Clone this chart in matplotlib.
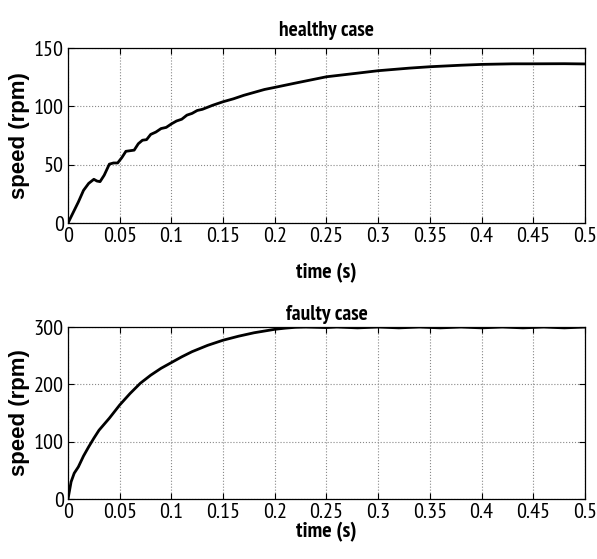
import matplotlib
matplotlib.use("Agg")
import matplotlib.pyplot as plt
from matplotlib import font_manager

# ---- data ----
t_healthy = [0, 0.005, 0.01, 0.015, 0.02, 0.025, 0.028, 0.031, 0.035, 0.04, 0.044, 0.048,
             0.052, 0.056, 0.06, 0.064, 0.068, 0.072, 0.076, 0.08, 0.085, 0.09, 0.095, 0.1,
             0.105, 0.11, 0.115, 0.12, 0.125, 0.13, 0.14, 0.15, 0.16, 0.17, 0.18, 0.19, 0.2,
             0.22, 0.25, 0.28, 0.3, 0.33, 0.35, 0.38, 0.4, 0.43, 0.45, 0.48, 0.5]
speed_healthy = [0, 9, 18, 28, 34, 37.5, 36, 35.5, 41, 50.5, 51.5, 51.5,
                 56, 61.5, 62, 62.5, 68, 71, 71.5, 76, 78, 81, 82, 85,
                 87.5, 89, 92.5, 94, 96.5, 97.5, 101, 104, 106.5, 109.5, 112, 114.5, 116.3,
                 120, 125.4, 128.5, 130.6, 132.8, 134, 135.3, 136, 136.5, 136.5, 136.6, 136.4]

t_faulty = [0, 0.003, 0.006, 0.01, 0.015, 0.02, 0.025, 0.03, 0.04, 0.05, 0.06, 0.07, 0.08,
            0.09, 0.1, 0.11, 0.12, 0.135, 0.15, 0.165, 0.18, 0.19, 0.2, 0.21, 0.22, 0.23,
            0.25, 0.26, 0.28, 0.3, 0.32, 0.34, 0.36, 0.38, 0.4, 0.42, 0.44, 0.46, 0.48, 0.5]
speed_faulty = [0, 30, 45, 56, 75, 91, 106, 120, 141, 164, 184, 202, 216,
                228, 238, 248, 257, 268, 277, 284, 290, 293, 296, 298, 299.5, 300,
                299, 300, 298.5, 300, 298.5, 300, 298.5, 300, 298.5, 300, 298.5, 300, 298.5, 300]

x_ticks = [0, 0.05, 0.1, 0.15, 0.2, 0.25, 0.3, 0.35, 0.4, 0.45, 0.5]
x_ticklabels = ["0", "0.05", "0.1", "0.15", "0.2", "0.25", "0.3", "0.35", "0.4", "0.45", "0.5"]
y_ticks_healthy = [0, 50, 100, 150]
y_ticks_faulty = [0, 100, 200, 300]

titles = ["healthy case", "faulty case"]
xlabel = "time (s)"
ylabel = "speed (rpm)"

names = {f.name for f in font_manager.fontManager.ttflist}
narrow = "Liberation Sans"
for cand in ["PT Sans Narrow", "Archivo Narrow", "Roboto Condensed"]:
    if cand in names:
        narrow = cand
        break

fig = plt.figure(figsize=(5.97, 5.59), dpi=100)
ax1 = fig.add_axes([0.1139, 0.601, 0.866, 0.313])
ax2 = fig.add_axes([0.1139, 0.1073, 0.866, 0.3077])

panels = [(ax1, t_healthy, speed_healthy, y_ticks_healthy, titles[0], 9.0, 12.0),
          (ax2, t_faulty, speed_faulty, y_ticks_faulty, titles[1], 5.0, 0.0)]

for ax, t, s, yt, ttl, tpad, lpad in panels:
    ax.plot(t, s, color="black", lw=2.0)
    ax.set_xlim(0, 0.5)
    ax.set_ylim(yt[0], yt[-1])
    ax.set_xticks(x_ticks)
    ax.set_xticklabels(x_ticklabels)
    ax.set_yticks(yt)
    ax.grid(True, color="#888888", linestyle=":", linewidth=0.8)
    ax.tick_params(direction="in", top=True, right=True, length=4, width=0.8, pad=3,
                   labelsize=16)
    for lab in ax.get_xticklabels() + ax.get_yticklabels():
        lab.set_fontfamily(narrow)
    for sp in ax.spines.values():
        sp.set_linewidth(0.9)
    ax.set_title(ttl, fontsize=15.5, fontweight="bold", family=narrow, pad=tpad)
    ax.set_xlabel(xlabel, fontsize=16, fontweight="bold", family=narrow, labelpad=lpad)
    ax.set_ylabel(ylabel, fontsize=16, fontweight="bold", family="Liberation Sans", labelpad=3)

fig.savefig("out.png", dpi=100)
